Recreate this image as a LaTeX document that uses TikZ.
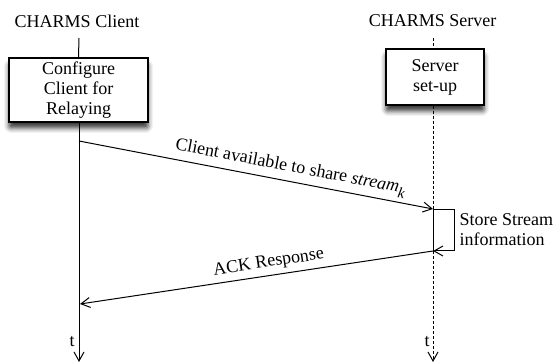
\documentclass[tikz,border=0pt]{standalone}
\usepackage{fontspec}
\setmainfont{Liberation Serif}
\usetikzlibrary{arrows.meta,shadows.blur}

\begin{document}
\begin{tikzpicture}[x=1pt,y=-1pt,
  every node/.style={font=\fontsize{18}{20}\selectfont},
  actbox/.style={draw, line width=1.4pt, fill=white, align=center, inner sep=0pt,
    blur shadow={shadow xshift=0pt, shadow yshift=-6pt, shadow blur radius=5pt,
      shadow blur extra rounding=2pt, shadow opacity=80}},
  tip/.style={-{Straight Barb[length=9pt,width=10pt,line width=1pt]}},
  msg/.style={line width=1pt, tip},
  life/.style={line width=1pt},
  dashlife/.style={line width=1pt, dash pattern=on 3pt off 2pt},
]
\useasboundingbox (0,0) rectangle (554,363);

% participants
\node (cTitle) at (77,21) {CHARMS Client};
\node (sTitle) at (432.5,21) {CHARMS Server};

\coordinate (cTop) at (79,38);
\coordinate (sTop) at (433,38);
\coordinate (cEnd) at (79,362);
\coordinate (sEnd) at (433,362);

\node[actbox, minimum width=139pt, minimum height=64pt] (cfg) at (78.5,90)
  {Configure\\Client for\\Relaying};
\node[actbox, minimum width=98pt, minimum height=56pt] (setup) at (435,77)
  {Server\\set-up};

% message end points
\coordinate (m1s) at (79,141);
\coordinate (m1e) at (433,209);
\coordinate (loopA) at (433,210);
\coordinate (loopB) at (454,210);
\coordinate (loopC) at (454,251);
\coordinate (loopD) at (433,251);
\coordinate (m2s) at (433,251);
\coordinate (m2e) at (80,304);

% lifelines
\draw[life] (cTop) -- (cfg.north);
\draw[life, tip] (cfg.south -| cTop) -- (cEnd);
\draw[dashlife] (sTop) -- (sTop |- setup.north);
\draw[dashlife] (sTop |- setup.south) -- (loopA);
\draw[life] (loopA) -- (loopD);
\draw[dashlife, tip] (loopD) -- (sEnd);

% messages
\draw[msg] (m1s) -- node[pos=0.59, sloped, above=1pt]
  {Client available to share \textit{stream}\raisebox{-5pt}{\fontsize{15}{15}\selectfont\itshape k}} (m1e);
\draw[msg] (loopA) -- (loopB) -- (loopC) -- (loopD);
\node[anchor=west, align=left] (store) at (456,230) {Store Stream\\information};
\draw[msg] (m2s) -- node[pos=0.46, sloped, above=1pt] {ACK Response} (m2e);

% time labels
\node (tc) at (72,342) {t};
\node (ts) at (427,342) {t};
\end{tikzpicture}
\end{document}
